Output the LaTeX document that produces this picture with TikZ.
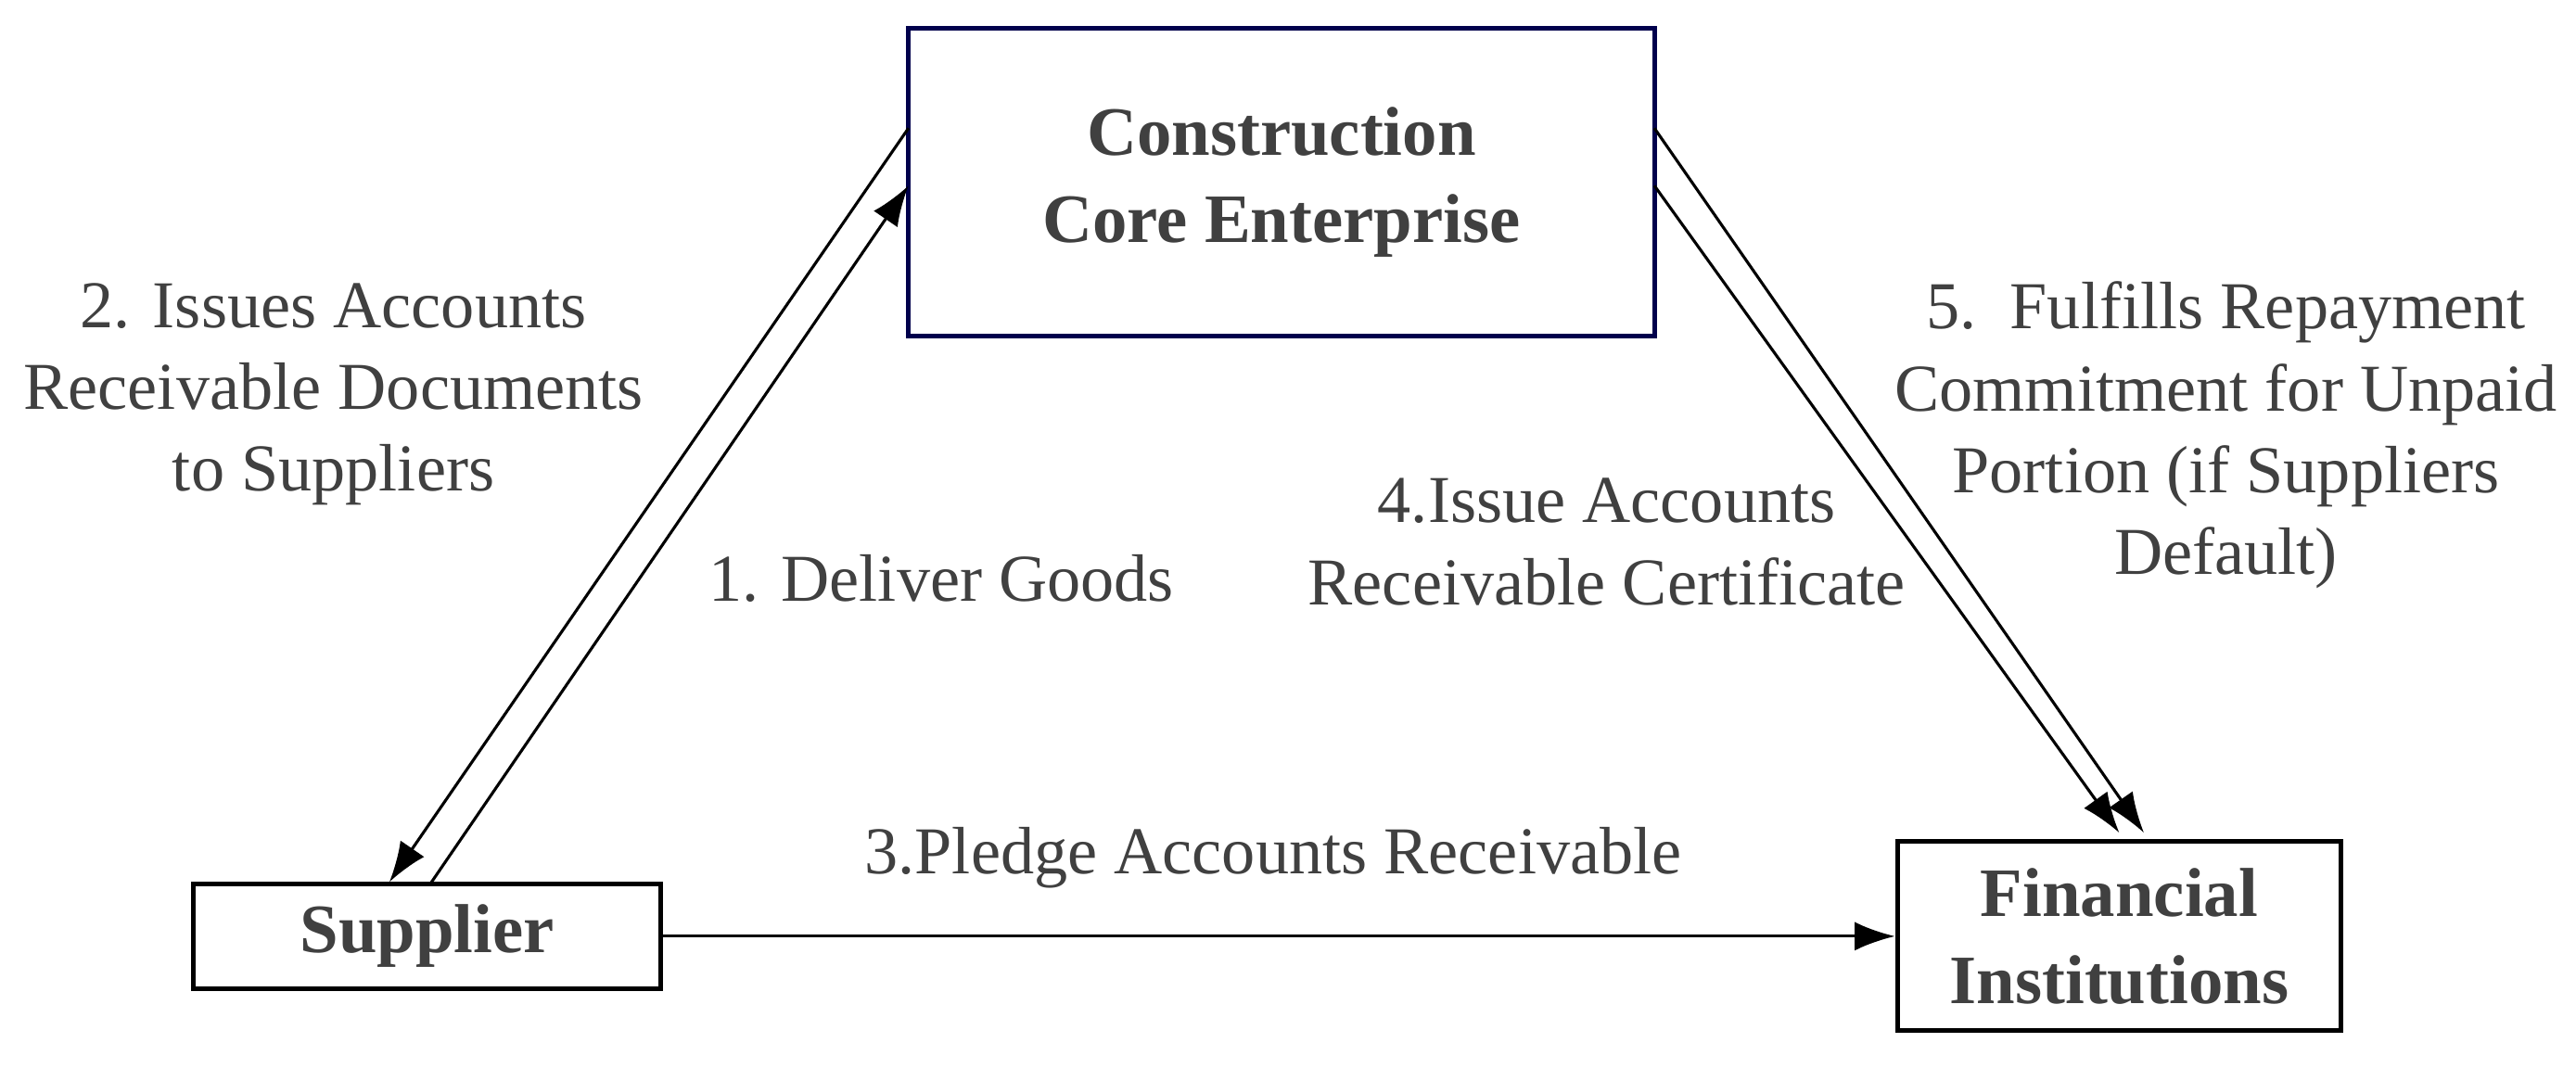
\documentclass[tikz,border=0pt]{standalone}
\usepackage{fontspec}
\setmainfont{Liberation Serif}
\usetikzlibrary{arrows.meta}
\definecolor{txt}{HTML}{404040}
\begin{document}
\begin{tikzpicture}[x=0.01cm,y=-0.01cm,
  party/.style={draw=black,thick,font=\fontsize{12}{15}\selectfont\bfseries,text=txt,align=center,inner sep=0pt},
  lab/.style={font=\fontsize{11.6}{14.2}\selectfont,text=txt,align=center},
  flow/.style={-{Latex[length=7pt,width=5pt]},line width=0.5pt}]
\useasboundingbox (0,0) rectangle (1568,650);

\node[party,draw=black!70!blue,minimum width=4.54cm,minimum height=1.87cm] (C) at (780,111) {Construction\\Core Enterprise};
\node[party,minimum width=2.84cm,minimum height=0.64cm] (S) at (260,570) {Supplier};
\node[party,minimum width=2.70cm,minimum height=1.15cm] (F) at (1290,570) {Financial\\Institutions};

\coordinate (s1) at (262,538);
\coordinate (s2) at (237,537);
\coordinate (c1) at (553,113);
\coordinate (c2) at (553,78);
\coordinate (c3) at (1007,78);
\coordinate (c4) at (1007,113);
\coordinate (f1) at (1305,507);
\coordinate (f2) at (1290,507);

\draw[flow] (s1) -- (c1);
\draw[flow] (c2) -- (s2);
\draw[flow] (c3) -- (f1);
\draw[flow] (c4) -- (f2);
\draw[flow] (S.east) -- (F.west);

\node[lab] (l2) at (203,240) {2. Issues Accounts\\Receivable Documents\\to Suppliers};
\node[lab] (l1) at (573,352) {1. Deliver Goods};
\node[lab] (l4) at (978,330) {4.Issue Accounts\\Receivable Certificate};
\node[lab] (l5) at (1355,265) {5.~~Fulfills Repayment\\Commitment for Unpaid\\Portion (if Suppliers\\Default)};
\node[lab] (l3) at (775,522) {3.Pledge Accounts Receivable};
\end{tikzpicture}
\end{document}
